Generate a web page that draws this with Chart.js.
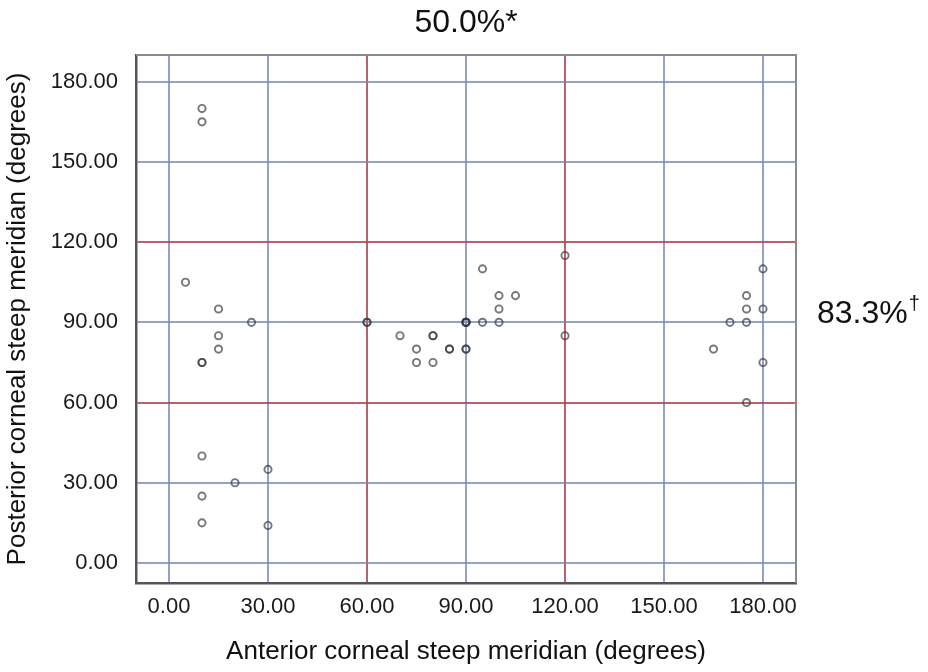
<!DOCTYPE html>
<html><head><meta charset="utf-8">
<script src="https://cdn.jsdelivr.net/npm/chart.js@4"></script>
<style>
html,body{margin:0;padding:0;background:#fff;}
#wrap{position:relative;width:928px;height:672px;overflow:hidden;}
canvas{position:absolute;left:0;top:0;}
.note{position:absolute;font-family:"Liberation Sans",Arial,sans-serif;font-size:32px;line-height:32px;color:#111;white-space:nowrap;}
.sup{font-size:20px;position:relative;top:-13px;margin-left:1px;}
</style></head><body>
<div id="wrap">
<canvas id="c" width="928" height="672"></canvas>
<div class="note" id="topNote" style="left:2px;width:928px;text-align:center;top:5px;">50.0%*</div>
<div class="note" id="rightNote" style="left:817px;top:296px;">83.3%<span class="sup">†</span></div>
</div>
<script>
// Anterior (x) and posterior (y) steep meridians, degrees (duplicates = overlapping eyes)
const anteriorDeg  = [10, 10, 5, 15, 25, 15, 15, 10, 10, 10, 30, 20, 10, 10, 30,
                      60, 60, 70, 80, 80, 75, 85, 85, 90, 90, 75, 80, 90, 90, 90, 90,
                      95, 100, 105, 100, 95, 100, 120, 120,
                      165, 170, 175, 175, 175, 175, 180, 180, 180];
const posteriorDeg = [170, 165, 105, 95, 90, 85, 80, 75, 75, 40, 35, 30, 25, 15, 14,
                      90, 90, 85, 85, 85, 80, 80, 80, 80, 80, 75, 75, 90, 90, 90, 90,
                      110, 100, 100, 95, 90, 90, 115, 85,
                      80, 90, 100, 95, 90, 60, 110, 95, 75];
const xTickValues = [0, 30, 60, 90, 120, 150, 180];
const yTickValues = [0, 30, 60, 90, 120, 150, 180];
const referenceLines = [60, 120];
const xTitle = 'Anterior corneal steep meridian (degrees)';
const yTitle = 'Posterior corneal steep meridian (degrees)';

const points = anteriorDeg.map((x, i) => ({x: x, y: posteriorDeg[i]}));

const FONT = '"Liberation Sans", Arial, sans-serif';
const BLUE = 'rgba(120,134,186,0.78)';
const RED = 'rgba(172,70,82,0.85)';
const gridColor = (ctx) => referenceLines.includes(ctx.tick && ctx.tick.value) ? RED : BLUE;

const frame = {
  id: 'frame',
  afterDatasetsDraw(chart) {
    const {ctx, chartArea: a} = chart;
    ctx.save();
    ctx.strokeStyle = '#8a8a8a';
    ctx.lineWidth = 2;
    ctx.beginPath();
    ctx.moveTo(a.left, a.top);
    ctx.lineTo(a.right, a.top);
    ctx.lineTo(a.right, a.bottom);
    ctx.stroke();
    ctx.restore();
  }
};

new Chart(document.getElementById('c'), {
  type: 'scatter',
  data: {
    datasets: [{
      data: points,
      pointRadius: 3.6,
      pointHoverRadius: 3.6,
      pointBorderWidth: 1.9,
      pointBackgroundColor: 'rgba(0,0,0,0)',
      pointBorderColor: 'rgba(55,55,55,0.68)'
    }]
  },
  options: {
    responsive: false,
    animation: false,
    devicePixelRatio: 1,
    layout: {padding: {left: 0, top: 55, right: 132, bottom: 0}},
    plugins: {legend: {display: false}, tooltip: {enabled: false}},
    scales: {
      x: {
        type: 'linear', min: -10, max: 190,
        afterBuildTicks: (s) => { s.ticks = xTickValues.map(v => ({value: v})); },
        afterFit: (s) => { s.height = 89; },
        ticks: {
          callback: (v) => Number(v).toFixed(2),
          font: {family: FONT, size: 22}, color: '#1a1a1a', padding: 11,
          maxRotation: 0, autoSkip: false
        },
        grid: {color: gridColor, lineWidth: 2, drawTicks: false},
        border: {color: '#555', width: 2.5},
        title: {display: true, text: xTitle, font: {family: FONT, size: 26, lineHeight: 1},
                color: '#111', padding: {top: 0, bottom: 7}}
      },
      y: {
        type: 'linear', min: -7.5, max: 190,
        afterBuildTicks: (s) => { s.ticks = yTickValues.map(v => ({value: v})); },
        afterFit: (s) => { s.width = 136; },
        ticks: {
          callback: (v) => Number(v).toFixed(2),
          font: {family: FONT, size: 22}, color: '#1a1a1a', padding: 18, autoSkip: false
        },
        grid: {color: gridColor, lineWidth: 2, drawTicks: false},
        border: {color: '#555', width: 2.5},
        title: {display: true, text: yTitle, font: {family: FONT, size: 26, lineHeight: 1},
                color: '#111', padding: {top: 5, bottom: 0}}
      }
    }
  },
  plugins: [frame]
});
</script>
</body></html>
